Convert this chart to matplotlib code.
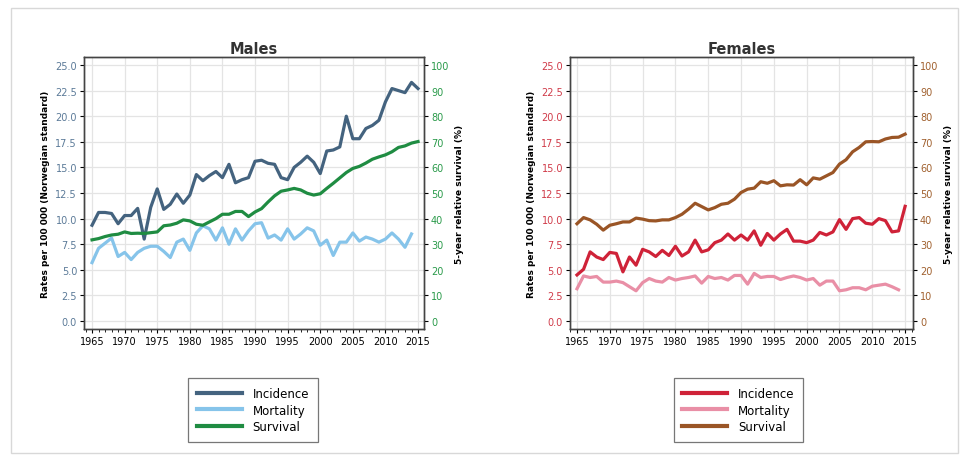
import matplotlib.pyplot as plt
from matplotlib.patches import Rectangle
from matplotlib.lines import Line2D
from matplotlib.ticker import MultipleLocator
import numpy as np

years = np.arange(1965, 2016)
years_mort = np.arange(1965, 2015)

# Males
male_incidence = [9.35, 10.6, 10.6, 10.5, 9.5, 10.3, 10.3, 11.0, 8.0, 11.1,
                  12.9, 10.9, 11.4, 12.4, 11.5, 12.3, 14.3, 13.7, 14.2, 14.6,
                  14.0, 15.3, 13.5, 13.8, 14.0, 15.6, 15.7, 15.4, 15.3, 14.0,
                  13.8, 15.0, 15.5, 16.1, 15.5, 14.4, 16.6, 16.7, 17.0, 20.0,
                  17.8, 17.8, 18.8, 19.1, 19.6, 21.4, 22.7, 22.5, 22.3, 23.3,
                  22.7]
male_mortality = [5.7, 7.1, 7.6, 8.1, 6.3, 6.7, 6.0, 6.7, 7.1, 7.3,
                  7.3, 6.8, 6.2, 7.7, 8.0, 6.9, 8.6, 9.3, 9.0, 7.9,
                  9.1, 7.5, 9.0, 7.9, 8.8, 9.5, 9.6, 8.1, 8.4, 7.9,
                  9.0, 8.0, 8.5, 9.1, 8.8, 7.4, 7.9, 6.4, 7.7, 7.7,
                  8.6, 7.8, 8.2, 8.0, 7.7, 8.0, 8.6, 8.0, 7.2, 8.5]
male_survival = [31.7, 32.2, 33.0, 33.6, 33.9, 34.8, 34.2, 34.3, 34.2, 34.5,
                 34.8, 37.2, 37.5, 38.2, 39.5, 39.1, 37.8, 37.4, 38.7, 40.0,
                 41.7, 41.7, 42.8, 42.8, 40.8, 42.6, 43.9, 46.5, 48.9, 50.7,
                 51.2, 51.8, 51.2, 49.9, 49.2, 49.7, 51.8, 53.8, 55.9, 58.0,
                 59.6, 60.4, 61.7, 63.2, 64.1, 64.9, 66.1, 67.8, 68.4, 69.5,
                 70.1]

# Females
female_incidence = [4.5, 5.05, 6.75, 6.25, 6.0, 6.7, 6.6, 4.8, 6.25, 5.45,
                    7.0, 6.75, 6.3, 6.9, 6.4, 7.3, 6.35, 6.75, 7.9, 6.75,
                    6.95, 7.65, 7.9, 8.5, 7.9, 8.4, 7.9, 8.8, 7.4, 8.55,
                    7.9, 8.5, 8.95, 7.8, 7.8, 7.65, 7.9, 8.65, 8.4, 8.7,
                    9.9, 8.95, 10.0, 10.1, 9.55, 9.45, 10.0, 9.8, 8.7, 8.8,
                    11.2]
female_mortality = [3.15, 4.4, 4.25, 4.35, 3.8, 3.8, 3.9, 3.75, 3.35, 2.95,
                    3.75, 4.15, 3.9, 3.8, 4.25, 4.0, 4.15, 4.25, 4.4, 3.7,
                    4.35, 4.15, 4.25, 4.0, 4.45, 4.45, 3.6, 4.65, 4.25, 4.35,
                    4.35, 4.05, 4.25, 4.4, 4.25, 4.0, 4.15, 3.5, 3.9, 3.9,
                    2.95, 3.05, 3.25, 3.25, 3.05, 3.4, 3.5, 3.6, 3.35, 3.05]
female_survival = [38.0, 40.4, 39.5, 37.8, 35.5, 37.4, 38.0, 38.7, 38.7, 40.2,
                   39.8, 39.2, 39.1, 39.5, 39.5, 40.4, 41.7, 43.7, 46.0, 44.7,
                   43.4, 44.3, 45.6, 46.0, 47.6, 50.2, 51.5, 51.9, 54.4, 53.8,
                   54.8, 52.8, 53.2, 53.1, 55.2, 53.2, 55.9, 55.4, 56.7, 58.0,
                   61.3, 63.0, 66.1, 67.8, 70.0, 70.1, 70.0, 71.1, 71.7, 71.8,
                   73.0]

series_labels = ["Incidence", "Mortality", "Survival"]

plt.rcParams['font.family'] = ['DejaVu Sans']

fig = plt.figure(figsize=(9.69, 4.6), dpi=100)
fig.patch.set_facecolor('white')
fig.add_artist(Rectangle((0.011, 0.012), 0.978, 0.968, transform=fig.transFigure,
                         fill=False, edgecolor='#d8d8d8', linewidth=1.0))


def panel(rect, xlim, title, inc, mort, surv, colors, lcol, rcol, leg_rect):
    ax = fig.add_axes(rect)
    ax.plot(years, inc, color=colors[0], lw=2.3, solid_joinstyle='round')
    ax.plot(years_mort, mort, color=colors[1], lw=2.3, solid_joinstyle='round')
    ax.set_xlim(*xlim)
    ax.set_ylim(-0.78, 25.78)
    ax.set_yticks(np.arange(0, 25.1, 2.5))
    ax.set_yticklabels([f"{v:.1f}" for v in np.arange(0, 25.1, 2.5)], color=lcol)
    ax.set_xticks(np.arange(1965, 2016, 5))
    ax.xaxis.set_minor_locator(MultipleLocator(1))
    ax.grid(True, which='major', color='#e4e4e4', lw=0.9)
    ax.set_axisbelow(True)
    ax.tick_params(axis='both', which='major', labelsize=7, length=3, width=0.8, pad=2)
    ax.tick_params(axis='x', which='minor', length=2, width=0.6)
    ax.set_ylabel("Rates per 100 000 (Norwegian standard)", fontsize=6.5,
                  fontweight='bold', labelpad=4)
    ax.set_title(title, fontsize=10.5, fontweight='bold', color='#333333', pad=3)
    for s in ax.spines.values():
        s.set_color('#444444')
        s.set_linewidth(1.0)

    ax2 = ax.twinx()
    ax2.plot(years, surv, color=colors[2], lw=2.3, solid_joinstyle='round')
    ax2.set_ylim(-3.12, 103.12)
    ax2.set_yticks(np.arange(0, 101, 10))
    ax2.tick_params(axis='y', labelsize=7, length=3, width=0.8, pad=2, labelcolor=rcol)
    ax2.set_ylabel("5-year relative survival (%)", fontsize=6.5,
                   fontweight='bold', labelpad=4)
    for s in ax2.spines.values():
        s.set_color('#444444')
        s.set_linewidth(1.0)

    handles = [Line2D([], [], color=c, lw=3) for c in colors]
    lax = fig.add_axes(leg_rect)
    lax.axis('off')
    leg = lax.legend(handles, series_labels, loc='center', fontsize=8.5,
                     frameon=True, fancybox=False, handlelength=3.8,
                     handletextpad=0.9, labelspacing=0.3, borderpad=0.75,
                     borderaxespad=0)
    leg.get_frame().set_edgecolor('#555555')
    leg.get_frame().set_linewidth(0.9)
    return ax


panel([0.0867, 0.2826, 0.3509, 0.5913], (1963.77, 2015.92), "Males",
      male_incidence, male_mortality, male_survival,
      ['#44637f', '#86c4ea', '#1f8c42'], '#5b7a98', '#2a9a4a',
      [0.194, 0.037, 0.134, 0.139])

panel([0.5882, 0.2826, 0.354, 0.5913], (1963.93, 2016.2), "Females",
      female_incidence, female_mortality, female_survival,
      ['#cf2238', '#e98fa6', '#9a5526'], '#d03a48', '#a0602e',
      [0.694, 0.037, 0.136, 0.139])

fig.savefig("out.png", dpi=100, facecolor='white')
